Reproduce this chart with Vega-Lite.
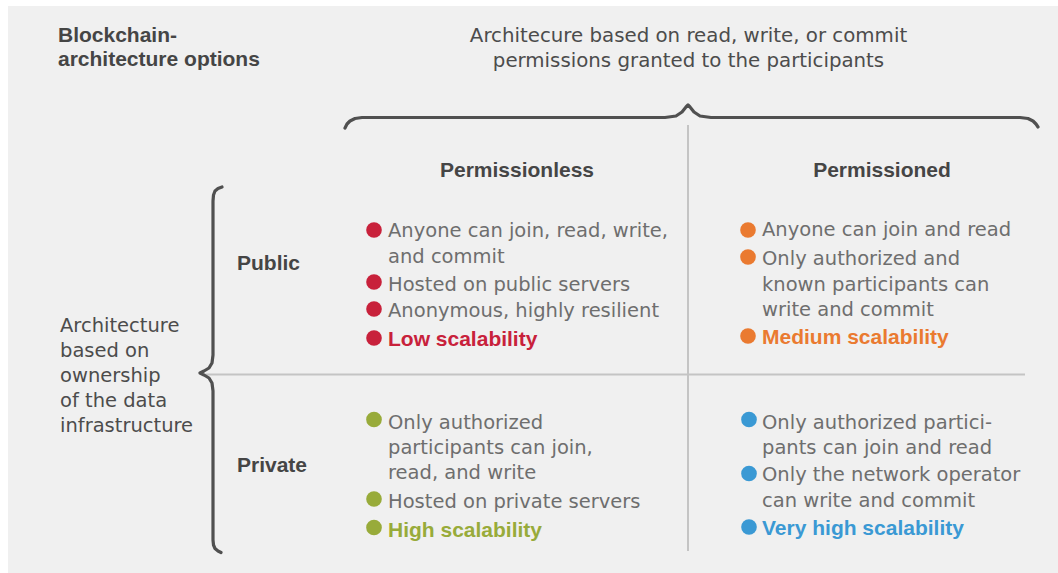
{
  "$schema": "https://vega.github.io/schema/vega-lite/v6.json",
  "width": 1058,
  "height": 573,
  "autosize": {"type": "fit", "contains": "padding"},
  "padding": 0,
  "background": "#ffffff",
  "config": {"view": {"stroke": null}},
  "datasets": {
    "panel": [{"x": 8, "x2": 1058, "y": 6, "y2": 573}],
    "dividers": [
      {"x": 688, "x2": 688, "y": 125, "y2": 551},
      {"x": 205, "x2": 1025, "y": 374.5, "y2": 374.5}
    ],
    "braces": [
      {"brace": "top", "i": 0, "x": 345, "y": 128},
      {"brace": "top", "i": 1, "x": 347, "y": 124},
      {"brace": "top", "i": 2, "x": 350, "y": 121},
      {"brace": "top", "i": 3, "x": 355, "y": 118.5},
      {"brace": "top", "i": 4, "x": 362, "y": 117.5},
      {"brace": "top", "i": 5, "x": 665, "y": 117.5},
      {"brace": "top", "i": 6, "x": 676, "y": 116},
      {"brace": "top", "i": 7, "x": 682, "y": 112},
      {"brace": "top", "i": 8, "x": 686, "y": 107},
      {"brace": "top", "i": 9, "x": 688, "y": 105},
      {"brace": "top", "i": 10, "x": 690, "y": 107},
      {"brace": "top", "i": 11, "x": 694, "y": 112},
      {"brace": "top", "i": 12, "x": 700, "y": 116},
      {"brace": "top", "i": 13, "x": 711, "y": 117.5},
      {"brace": "top", "i": 14, "x": 1020, "y": 117.5},
      {"brace": "top", "i": 15, "x": 1028, "y": 118.5},
      {"brace": "top", "i": 16, "x": 1033, "y": 121},
      {"brace": "top", "i": 17, "x": 1036, "y": 124},
      {"brace": "top", "i": 18, "x": 1038, "y": 127},
      {"brace": "left", "i": 0, "x": 222, "y": 187},
      {"brace": "left", "i": 1, "x": 218, "y": 188.5},
      {"brace": "left", "i": 2, "x": 215, "y": 191},
      {"brace": "left", "i": 3, "x": 213.5, "y": 195},
      {"brace": "left", "i": 4, "x": 213, "y": 201},
      {"brace": "left", "i": 5, "x": 213, "y": 355},
      {"brace": "left", "i": 6, "x": 212, "y": 363},
      {"brace": "left", "i": 7, "x": 209, "y": 368},
      {"brace": "left", "i": 8, "x": 204, "y": 371},
      {"brace": "left", "i": 9, "x": 200, "y": 373},
      {"brace": "left", "i": 10, "x": 204, "y": 375},
      {"brace": "left", "i": 11, "x": 209, "y": 378},
      {"brace": "left", "i": 12, "x": 212, "y": 383},
      {"brace": "left", "i": 13, "x": 213, "y": 391},
      {"brace": "left", "i": 14, "x": 213, "y": 540},
      {"brace": "left", "i": 15, "x": 213.5, "y": 545},
      {"brace": "left", "i": 16, "x": 215, "y": 548.5},
      {"brace": "left", "i": 17, "x": 218, "y": 551},
      {"brace": "left", "i": 18, "x": 221, "y": 552.5}
    ],
    "dots": [
      {"group": "red", "x": 374, "y": 230},
      {"group": "red", "x": 374, "y": 282},
      {"group": "red", "x": 374, "y": 309},
      {"group": "red", "x": 374, "y": 338},
      {"group": "orange", "x": 748, "y": 230},
      {"group": "orange", "x": 748, "y": 257},
      {"group": "orange", "x": 748, "y": 336},
      {"group": "green", "x": 374, "y": 419.5},
      {"group": "green", "x": 374, "y": 499},
      {"group": "green", "x": 374, "y": 527.5},
      {"group": "blue", "x": 749, "y": 419.5},
      {"group": "blue", "x": 749, "y": 473.5},
      {"group": "blue", "x": 749, "y": 527}
    ],
    "bodytext": [
      {"x": 388, "y": 236.5, "text": "Anyone can join, read, write,"},
      {"x": 388, "y": 262.5, "text": "and commit"},
      {"x": 388, "y": 290.5, "text": "Hosted on public servers"},
      {"x": 388, "y": 317, "text": "Anonymous, highly resilient"},
      {"x": 762, "y": 236, "text": "Anyone can join and read"},
      {"x": 762, "y": 264.5, "text": "Only authorized and"},
      {"x": 762, "y": 290.5, "text": "known participants can"},
      {"x": 762, "y": 315.5, "text": "write and commit"},
      {"x": 388, "y": 428.5, "text": "Only authorized"},
      {"x": 388, "y": 454, "text": "participants can join,"},
      {"x": 388, "y": 478.5, "text": "read, and write"},
      {"x": 388, "y": 508, "text": "Hosted on private servers"},
      {"x": 762, "y": 428.5, "text": "Only authorized partici-"},
      {"x": 762, "y": 453.5, "text": "pants can join and read"},
      {"x": 762, "y": 481, "text": "Only the network operator"},
      {"x": 762, "y": 506.5, "text": "can write and commit"}
    ],
    "scaletext": [
      {"group": "red", "x": 388, "y": 346, "text": "Low scalability"},
      {"group": "orange", "x": 762, "y": 344, "text": "Medium scalability"},
      {"group": "green", "x": 388, "y": 536.5, "text": "High scalability"},
      {"group": "blue", "x": 762, "y": 535, "text": "Very high scalability"}
    ],
    "boldleft": [
      {"x": 58, "y": 42, "text": "Blockchain-"},
      {"x": 58, "y": 66, "text": "architecture options"},
      {"x": 237, "y": 270, "text": "Public"},
      {"x": 237, "y": 472, "text": "Private"}
    ],
    "boldcenter": [
      {"x": 517, "y": 176.5, "text": "Permissionless"},
      {"x": 882, "y": 176.5, "text": "Permissioned"}
    ],
    "header": [
      {"x": 688.5, "y": 42.3, "text": "Architecure based on read, write, or commit"},
      {"x": 688.5, "y": 66.7, "text": "permissions granted to the participants"}
    ],
    "leftlabel": [
      {"x": 60, "y": 332, "text": "Architecture"},
      {"x": 60, "y": 357, "text": "based on"},
      {"x": 60, "y": 382, "text": "ownership"},
      {"x": 60, "y": 406.5, "text": "of the data"},
      {"x": 60, "y": 432, "text": "infrastructure"}
    ]
  },
  "layer": [
    {
      "data": {"name": "panel"},
      "mark": {"type": "rect", "fill": "#f0f0f0", "stroke": null},
      "encoding": {
        "x": {"field": "x", "type": "quantitative", "scale": {"domain": [0, 1058], "nice": false, "zero": false}, "axis": null},
        "x2": {"field": "x2"},
        "y": {"field": "y", "type": "quantitative", "scale": {"domain": [0, 573], "nice": false, "zero": false, "reverse": true}, "axis": null},
        "y2": {"field": "y2"}
      }
    },
    {
      "data": {"name": "dividers"},
      "mark": {"type": "rule", "color": "#c4c4c4", "strokeWidth": 2},
      "encoding": {
        "x": {"field": "x", "type": "quantitative", "scale": {"domain": [0, 1058], "nice": false, "zero": false}, "axis": null},
        "x2": {"field": "x2"},
        "y": {"field": "y", "type": "quantitative", "scale": {"domain": [0, 573], "nice": false, "zero": false, "reverse": true}, "axis": null},
        "y2": {"field": "y2"}
      }
    },
    {
      "data": {"name": "braces"},
      "mark": {"type": "line", "color": "#505050", "strokeWidth": 3.2, "strokeCap": "round", "strokeJoin": "round"},
      "encoding": {
        "x": {"field": "x", "type": "quantitative", "scale": {"domain": [0, 1058], "nice": false, "zero": false}, "axis": null},
        "y": {"field": "y", "type": "quantitative", "scale": {"domain": [0, 573], "nice": false, "zero": false, "reverse": true}, "axis": null},
        "detail": {"field": "brace", "type": "nominal"},
        "order": {"field": "i", "type": "quantitative"}
      }
    },
    {
      "data": {"name": "dots"},
      "mark": {"type": "point", "filled": true, "opacity": 1, "size": 245, "shape": "circle"},
      "encoding": {
        "x": {"field": "x", "type": "quantitative", "scale": {"domain": [0, 1058], "nice": false, "zero": false}, "axis": null},
        "y": {"field": "y", "type": "quantitative", "scale": {"domain": [0, 573], "nice": false, "zero": false, "reverse": true}, "axis": null},
        "color": {"field": "group", "type": "nominal", "scale": {"domain": ["red", "orange", "green", "blue"], "range": ["#c8213b", "#ea7a30", "#98ab3a", "#3a99d4"]}, "legend": null}
      }
    },
    {
      "data": {"name": "bodytext"},
      "mark": {"type": "text", "align": "left", "baseline": "alphabetic", "font": "DejaVu Sans", "fontSize": 19.5, "color": "#6e6e6e"},
      "encoding": {
        "x": {"field": "x", "type": "quantitative", "scale": {"domain": [0, 1058], "nice": false, "zero": false}, "axis": null},
        "y": {"field": "y", "type": "quantitative", "scale": {"domain": [0, 573], "nice": false, "zero": false, "reverse": true}, "axis": null},
        "text": {"field": "text"}
      }
    },
    {
      "data": {"name": "scaletext"},
      "mark": {"type": "text", "align": "left", "baseline": "alphabetic", "font": "Liberation Sans", "fontWeight": "bold", "fontSize": 21},
      "encoding": {
        "x": {"field": "x", "type": "quantitative", "scale": {"domain": [0, 1058], "nice": false, "zero": false}, "axis": null},
        "y": {"field": "y", "type": "quantitative", "scale": {"domain": [0, 573], "nice": false, "zero": false, "reverse": true}, "axis": null},
        "text": {"field": "text"},
        "color": {"field": "group", "type": "nominal", "scale": {"domain": ["red", "orange", "green", "blue"], "range": ["#c8213b", "#ea7a30", "#98ab3a", "#3a99d4"]}, "legend": null}
      }
    },
    {
      "data": {"name": "boldleft"},
      "mark": {"type": "text", "align": "left", "baseline": "alphabetic", "font": "Liberation Sans", "fontWeight": "bold", "fontSize": 21, "color": "#454545"},
      "encoding": {
        "x": {"field": "x", "type": "quantitative", "scale": {"domain": [0, 1058], "nice": false, "zero": false}, "axis": null},
        "y": {"field": "y", "type": "quantitative", "scale": {"domain": [0, 573], "nice": false, "zero": false, "reverse": true}, "axis": null},
        "text": {"field": "text"}
      }
    },
    {
      "data": {"name": "boldcenter"},
      "mark": {"type": "text", "align": "center", "baseline": "alphabetic", "font": "Liberation Sans", "fontWeight": "bold", "fontSize": 21, "color": "#454545"},
      "encoding": {
        "x": {"field": "x", "type": "quantitative", "scale": {"domain": [0, 1058], "nice": false, "zero": false}, "axis": null},
        "y": {"field": "y", "type": "quantitative", "scale": {"domain": [0, 573], "nice": false, "zero": false, "reverse": true}, "axis": null},
        "text": {"field": "text"}
      }
    },
    {
      "data": {"name": "header"},
      "mark": {"type": "text", "align": "center", "baseline": "alphabetic", "font": "DejaVu Sans", "fontSize": 19.8, "color": "#4c4c4c"},
      "encoding": {
        "x": {"field": "x", "type": "quantitative", "scale": {"domain": [0, 1058], "nice": false, "zero": false}, "axis": null},
        "y": {"field": "y", "type": "quantitative", "scale": {"domain": [0, 573], "nice": false, "zero": false, "reverse": true}, "axis": null},
        "text": {"field": "text"}
      }
    },
    {
      "data": {"name": "leftlabel"},
      "mark": {"type": "text", "align": "left", "baseline": "alphabetic", "font": "DejaVu Sans", "fontSize": 19.5, "color": "#4c4c4c"},
      "encoding": {
        "x": {"field": "x", "type": "quantitative", "scale": {"domain": [0, 1058], "nice": false, "zero": false}, "axis": null},
        "y": {"field": "y", "type": "quantitative", "scale": {"domain": [0, 573], "nice": false, "zero": false, "reverse": true}, "axis": null},
        "text": {"field": "text"}
      }
    }
  ]
}
